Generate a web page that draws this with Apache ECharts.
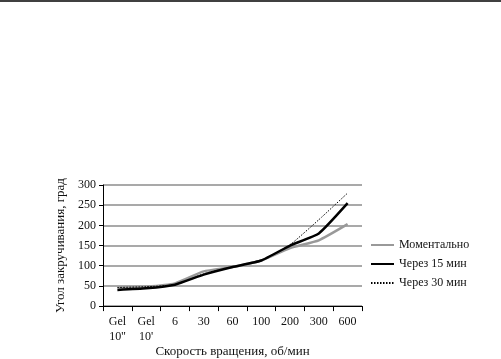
<!DOCTYPE html>
<html><head><meta charset="utf-8">
<script src="https://cdn.jsdelivr.net/npm/echarts@6/dist/echarts.min.js"></script>
<style>html,body{margin:0;padding:0;background:#fff}#c{width:501px;height:359px}</style>
</head><body><div id="c"></div>
<script>
var categories = ["Gel\n10''", "Gel\n10'", "6", "30", "60", "100", "200", "300", "600"];
var seriesNames = ["Моментально", "Через 15 мин", "Через 30 мин"];
var instant = [46, 48, 56, 86, 97, 113, 144, 163, 203];
var after15 = [40, 44, 53, 78, 97, 113, 150, 180, 255];
var after30 = [46, 48, 53, 80, 97, 113, 152, 214, 280];
var yTicks = [0, 50, 100, 150, 200, 250, 300];

var font = "'Liberation Serif', 'DejaVu Serif', serif";
var chart = echarts.init(document.getElementById('c'), null, {renderer: 'canvas'});
chart.setOption({
  animation: false,
  backgroundColor: '#fff',
  textStyle: {fontFamily: font},
  graphic: [{type: 'line', shape: {x1: 0, y1: 1, x2: 501, y2: 1}, style: {stroke: '#000', lineWidth: 1.5}}],
  grid: {left: 103, top: 185, width: 259, height: 125},
  legend: {
    orient: 'vertical', left: 365, top: 234, itemGap: 7, itemWidth: 23, itemHeight: 13,
    textStyle: {fontFamily: font, fontSize: 12, color: '#111'},
    itemStyle: {opacity: 0},
    data: seriesNames
  },
  xAxis: {
    type: 'category', data: categories, boundaryGap: true,
    name: 'Скорость вращения, об/мин', nameLocation: 'middle', nameGap: 38,
    nameTextStyle: {fontFamily: font, fontSize: 13, color: '#111'},
    axisLine: {lineStyle: {color: '#000', width: 1}},
    axisTick: {show: true, alignWithLabel: false, length: 5, lineStyle: {color: '#000'}},
    axisLabel: {fontFamily: font, fontSize: 12, color: '#111', interval: 0, lineHeight: 15, margin: 8}
  },
  yAxis: {
    type: 'value', min: 0, max: 300, interval: 50,
    name: 'Угол закручивания, град', nameLocation: 'middle', nameGap: 35,
    nameTextStyle: {fontFamily: font, fontSize: 13, color: '#111'},
    axisLine: {show: true, lineStyle: {color: '#000', width: 1}},
    axisTick: {show: true, length: 4, lineStyle: {color: '#000'}},
    axisLabel: {fontFamily: font, fontSize: 12, color: '#111', margin: 7,
      formatter: function(v){return yTicks.indexOf(v) >= 0 ? String(v) : '';}},
    splitLine: {show: true, lineStyle: {color: '#8c8c8c', width: 1.5}}
  },
  series: [
    {name: seriesNames[0], type: 'line', data: instant, smooth: 0.15, symbol: 'none',
      lineStyle: {color: '#999', width: 2.5}, itemStyle: {color: '#999'}, z: 2},
    {name: seriesNames[1], type: 'line', data: after15, smooth: 0.15, symbol: 'none',
      lineStyle: {color: '#000', width: 2.5}, itemStyle: {color: '#000'}, z: 3},
    {name: seriesNames[2], type: 'line', data: after30, smooth: 0.15, symbol: 'none',
      lineStyle: {color: '#000', width: 1, type: [1.5, 1.5]}, itemStyle: {color: '#000'}, z: 4}
  ]
});
</script></body></html>
